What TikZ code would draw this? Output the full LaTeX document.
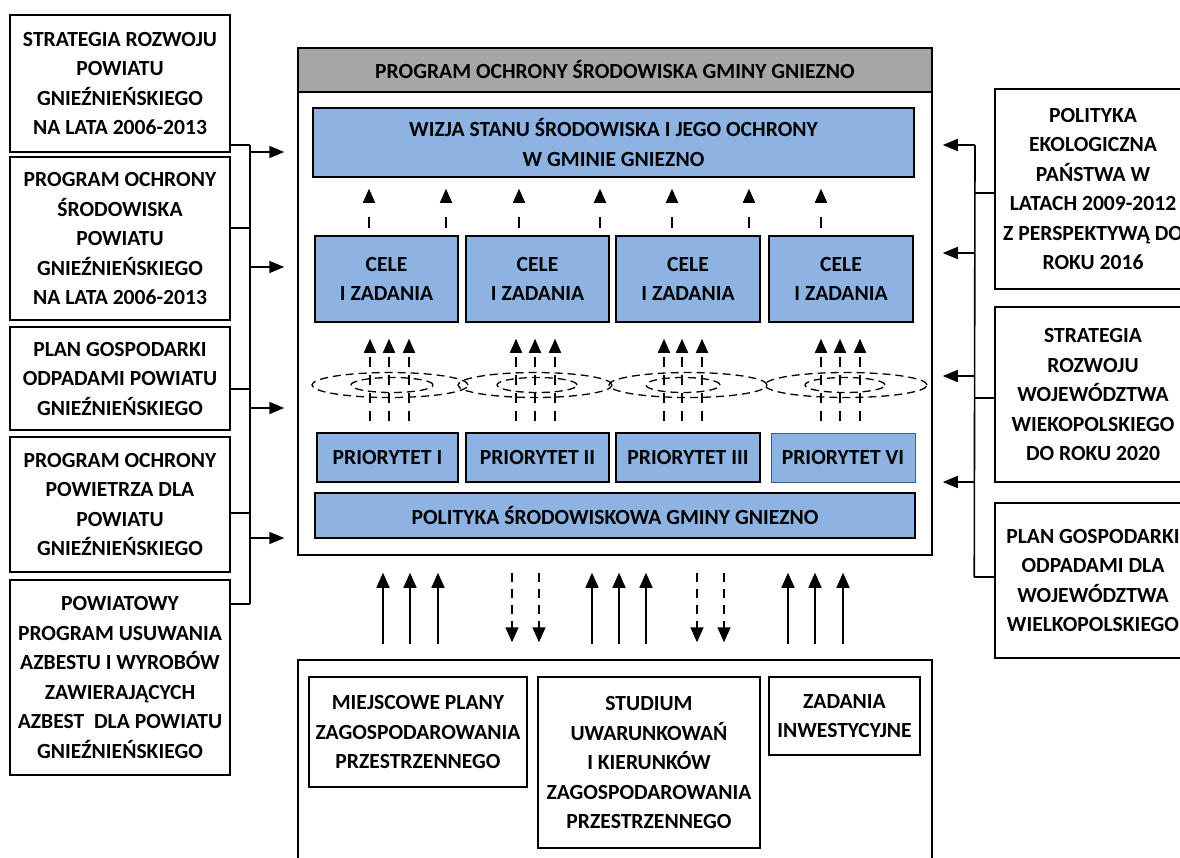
\documentclass[tikz,border=0pt]{standalone}
\usepackage{fontspec}
\setmainfont{Carlito}
\usetikzlibrary{arrows.meta,shapes.geometric}
\definecolor{boxblue}{HTML}{8DB3E2}
\definecolor{titlegray}{HTML}{A6A6A6}
\definecolor{edgeblue}{HTML}{3A5F8C}
\begin{document}
\begin{tikzpicture}[x=1pt,y=-1pt,
  box/.style={draw, line width=1.5pt, align=center, inner sep=0pt,
    font=\fontsize{21.6}{29.5}\selectfont\bfseries},
  bbox/.style={box, fill=boxblue},
  conn/.style={line width=1.6pt},
  arr/.style={conn, -{Triangle[length=15pt,width=12pt]}},
  sarr/.style={conn, -{Triangle[length=14pt,width=12pt]}},
  darr/.style={sarr, dash pattern=on 11pt off 14pt},
  tarr/.style={sarr, dash pattern=on 10pt off 8pt},
  barr/.style={conn, -{Triangle[length=15pt,width=13pt]}},
  bdarr/.style={barr, dash pattern=on 9pt off 7pt},
  ell/.style={ellipse, draw, line width=1.3pt, dash pattern=on 8pt off 5pt, inner sep=0pt}]
\clip (0,0) rectangle (1180,857);
\fill[white] (0,0) rectangle (1180,857);

% left boxes
\node[box, minimum width=220, minimum height=137] (L1) at (120,83.5)
  {STRATEGIA ROZWOJU\\POWIATU\\GNIEŹNIEŃSKIEGO\\NA LATA 2006-2013};
\node[box, minimum width=220, minimum height=163] (L2) at (120,238.5)
  {PROGRAM OCHRONY\\ŚRODOWISKA\\POWIATU\\GNIEŹNIEŃSKIEGO\\NA LATA 2006-2013};
\node[box, minimum width=220, minimum height=103] (L3) at (120,378.5)
  {PLAN GOSPODARKI\\ODPADAMI POWIATU\\GNIEŹNIEŃSKIEGO};
\node[box, minimum width=220, minimum height=135] (L4) at (120,504.5)
  {PROGRAM OCHRONY\\POWIETRZA DLA\\POWIATU\\GNIEŹNIEŃSKIEGO};
\node[box, minimum width=220, minimum height=195] (L5) at (120,677.5)
  {POWIATOWY\\PROGRAM USUWANIA\\AZBESTU I WYROBÓW\\ZAWIERAJĄCYCH\\AZBEST\ \ DLA POWIATU\\GNIEŹNIEŃSKIEGO};

% right boxes
\node[box, minimum width=196, minimum height=200] (R1) at (1093,189)
  {POLITYKA\\EKOLOGICZNA\\PAŃSTWA W\\LATACH 2009-2012\\Z PERSPEKTYWĄ DO\\ROKU 2016};
\node[box, minimum width=196, minimum height=175] (R2) at (1093,394.5)
  {STRATEGIA\\ROZWOJU\\WOJEWÓDZTWA\\WIEKOPOLSKIEGO\\DO ROKU 2020};
\node[box, minimum width=196, minimum height=155] (R3) at (1093,580.5)
  {PLAN GOSPODARKI\\ODPADAMI DLA\\WOJEWÓDZTWA\\WIELKOPOLSKIEGO};

% main box
\node[box, minimum width=634, minimum height=507] (main) at (615,301.5) {};
\node[box, fill=titlegray, minimum width=634, minimum height=44] (title) at (615,70)
  {PROGRAM OCHRONY ŚRODOWISKA GMINY GNIEZNO};
\node[bbox, minimum width=601, minimum height=69] (wizja) at (613.5,142.5)
  {WIZJA STANU ŚRODOWISKA I JEGO OCHRONY\\W GMINIE GNIEZNO};
\node[bbox, minimum width=143, minimum height=86] (c1) at (386.5,279) {CELE\\I ZADANIA};
\node[bbox, minimum width=143, minimum height=86] (c2) at (537.5,279) {CELE\\I ZADANIA};
\node[bbox, minimum width=144, minimum height=86] (c3) at (688,279) {CELE\\I ZADANIA};
\node[bbox, minimum width=144, minimum height=86] (c4) at (841,279) {CELE\\I ZADANIA};
\node[bbox, minimum width=141, minimum height=49] (p1) at (387.5,457.5) {PRIORYTET I};
\node[bbox, minimum width=143, minimum height=49] (p2) at (537.5,457.5) {PRIORYTET II};
\node[bbox, minimum width=144, minimum height=49] (p3) at (688,457.5) {PRIORYTET III};
\node[bbox, draw=edgeblue, line width=1pt, minimum width=144, minimum height=49] (p4) at (843,457.5) {PRIORYTET VI};
\node[bbox, minimum width=600, minimum height=45] (pol) at (615,515.5)
  {POLITYKA ŚRODOWISKOWA GMINY GNIEZNO};

% ellipses
\node[ell, minimum width=156, minimum height=25] (eo1) at (390,385) {};
\node[ell, minimum width=154, minimum height=25] (eo2) at (535,385) {};
\node[ell, minimum width=158, minimum height=25] (eo3) at (688,385) {};
\node[ell, minimum width=162, minimum height=25] (eo4) at (846,385) {};
\node[ell, minimum width=82, minimum height=15] (ei1) at (392,385) {};
\node[ell, minimum width=80, minimum height=15] (ei2) at (537,385) {};
\node[ell, minimum width=74, minimum height=15] (ei3) at (683,385) {};
\node[ell, minimum width=80, minimum height=15] (ei4) at (845,385) {};

% arrows CELE -> WIZJA
\foreach \x [count=\i] in {369,446,519,600,672,749,821}{
  \coordinate (ua\i) at (\x,0);
  \draw[darr, shorten <=7pt, shorten >=11pt] (c1.north -| ua\i) -- (wizja.south -| ua\i);
}
% triple arrows PRIORYTET -> CELE
\foreach \x [count=\i] in {370,389,409,516,535,555,664,682,702,821,840,860}{
  \coordinate (ta\i) at (\x,0);
  \draw[tarr, shorten <=11pt, shorten >=16pt] (p1.north -| ta\i) -- (c1.south -| ta\i);
}

% bottom box
\node[box, minimum width=634, minimum height=210] (bot) at (615,765) {};
\node[box, minimum width=218, minimum height=110] (mpz) at (418,732)
  {MIEJSCOWE PLANY\\ZAGOSPODAROWANIA\\PRZESTRZENNEGO};
\node[box, minimum width=222, minimum height=171] (stu) at (649,762.5)
  {STUDIUM\\UWARUNKOWAŃ\\I KIERUNKÓW\\ZAGOSPODAROWANIA\\PRZESTRZENNEGO};
\node[box, minimum width=151, minimum height=78] (zad) at (844.5,716)
  {ZADANIA\\INWESTYCYJNE};

% bottom arrows
\foreach \x [count=\i] in {383,410,438,592,619,646,788,815,843}{
  \coordinate (bu\i) at (\x,0);
  \draw[barr, shorten <=15pt, shorten >=17pt] (bot.north -| bu\i) -- (main.south -| bu\i);
}
\foreach \x [count=\i] in {512,539,697,724}{
  \coordinate (bd\i) at (\x,0);
  \draw[bdarr, shorten <=17pt, shorten >=17pt] (main.south -| bd\i) -- (bot.north -| bd\i);
}

% left connectors
\draw[conn] ([yshift=8pt]L1.south east) -- ++(19,0) coordinate (lbt);
\draw[conn] ([yshift=10.5pt]L2.east) -- ++(19,0);
\draw[conn] ([yshift=-10.5pt]L3.east) -- ++(19,0);
\draw[conn] ([yshift=-8.5pt]L4.east) -- ++(19,0);
\draw[conn] ([yshift=-25pt]L5.north east) -- ++(19,0) coordinate (lbb);
\draw[conn] (lbt) -- (lbb);
\coordinate (la1) at (249,152);
\coordinate (la2) at (249,267);
\coordinate (la3) at (249,408);
\coordinate (la4) at (249,538);
\foreach \i in {1,2,3,4}{
  \draw[arr, shorten >=13pt] (la\i) -- (main.west |- la\i);
}

% right connectors
\draw[conn] ([yshift=-4pt]R1.west) -- ++(-20,0);
\draw[conn] ([yshift=-3.5pt]R2.west) -- ++(-20,0);
\draw[conn] ([yshift=3.5pt]R3.west) -- ++(-20,0) coordinate (rbb);
\coordinate (ra1) at (975,145);
\coordinate (ra2) at (975,253);
\coordinate (ra3) at (975,376);
\coordinate (ra4) at (975,482);
\draw[conn] (ra1) -- (rbb);
\foreach \i in {1,2,3,4}{
  \draw[arr, shorten >=10pt] (ra\i) -- (main.east |- ra\i);
}
\end{tikzpicture}
\end{document}
